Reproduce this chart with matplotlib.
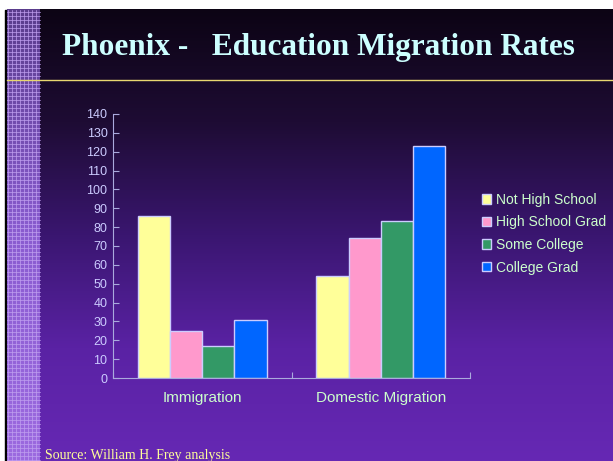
import numpy as np
import matplotlib.pyplot as plt
from matplotlib.colors import LinearSegmentedColormap

# data
categories = ['Immigration', 'Domestic Migration']
series = ['Not High School', 'High School Grad', 'Some College', 'College Grad']
values = {
    'Not High School': [86, 54],
    'High School Grad': [25, 74],
    'Some College': [17, 83],
    'College Grad': [31, 123],
}
colors = ['#ffff99', '#ff99cc', '#339966', '#0066ff']
yticks = list(range(0, 141, 10))

W, H = 613, 461
fig = plt.figure(figsize=(W / 100, H / 100), dpi=100)
fig.patch.set_facecolor('white')

# background: dark top fading into purple
bg = fig.add_axes([0, 0, 1, 1], zorder=-10)
bg.set_xlim(0, W)
bg.set_ylim(H, 0)
bg.axis('off')
cmap = LinearSegmentedColormap.from_list('slide', ['#0c0414', '#1e0c34', '#3a1670', '#5a22a4', '#6628b4'])
grad = np.linspace(0, 1, 256).reshape(-1, 1)
bg.imshow(grad, cmap=cmap, extent=[7, W, H, 10], aspect='auto', zorder=0)
# left black line + grid strip
bg.fill_between([5, 7], 10, H, color='black', zorder=1)
strip = LinearSegmentedColormap.from_list('strip', ['#5a3c8c', '#8a5cd0', '#9c6ae0'])
bg.imshow(grad, cmap=strip, extent=[7, 40, H, 10], aspect='auto', zorder=1)
for gx in np.arange(8, 40, 4):
    bg.plot([gx, gx], [10, H], color='#c0a0f0', lw=0.5, zorder=2)
for gy in np.arange(12, H, 4):
    bg.plot([7, 40], [gy, gy], color='#c0a0f0', lw=0.5, zorder=2)
# yellow rule under the title
bg.plot([7, W], [80, 80], color='#e8d870', lw=1, zorder=3)

fig.text(318 / W, 1 - 48 / H, 'Phoenix -   Education Migration Rates', ha='center', va='center',
         family='Liberation Serif', fontsize=22.5, fontweight='bold', color='#ccffff')
fig.text(45 / W, 1 - 455 / H, 'Source: William H. Frey analysis', ha='left', va='center',
         family='Liberation Serif', fontsize=10, color='#ffff99')

ax = fig.add_axes([113 / W, 1 - 378 / H, (470 - 113) / W, (378 - 114) / H])
ax.set_facecolor('none')
x = np.arange(len(categories))
width = 0.18
for i, name in enumerate(series):
    ax.bar(x + (i - 1.5) * width, values[name], width, color=colors[i],
           edgecolor='#ccccff', linewidth=1, label=name)

ax.set_xlim(-0.5, 1.5)
ax.set_ylim(0, 140)
ax.set_yticks(yticks)
ax.set_xticks([-0.5, 0.5, 1.5], minor=False)
ax.set_xticklabels([])
ax.set_xticks(x, minor=True)
ax.set_xticklabels(categories, minor=True, family='Liberation Sans')
ax.set_yticklabels([str(t) for t in yticks], family='Liberation Sans')
ax.tick_params(axis='x', which='minor', length=0, pad=9, labelsize=11, labelcolor='#ccffcc')
ax.tick_params(axis='x', which='major', length=4, direction='in', color='#aaaadd')
ax.tick_params(axis='y', length=4, direction='in', color='#aaaadd', labelsize=9, labelcolor='#ccccff', pad=4)
for s in ['top', 'right']:
    ax.spines[s].set_visible(False)
for s in ['left', 'bottom']:
    ax.spines[s].set_color('#aaaadd')

leg = ax.legend(loc='upper left', bbox_to_anchor=(479 / W, 1 - 190 / H), bbox_transform=fig.transFigure,
                frameon=False, prop={'family': 'Liberation Sans', 'size': 10}, labelcolor='#ccffcc',
                handlelength=0.65, handleheight=0.65, handletextpad=0.35, labelspacing=0.62,
                borderaxespad=0, borderpad=0.2)

fig.savefig('out.png', dpi=100)
